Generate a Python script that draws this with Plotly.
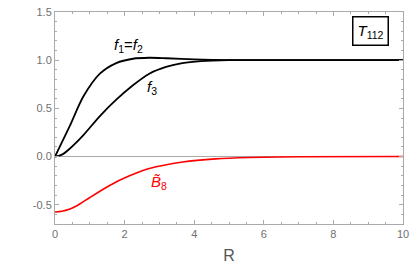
import plotly.graph_objects as go

# data
r_f12 = [0, 0.2, 0.43, 0.81, 1.29, 1.76, 2.24, 2.71, 3.2, 4.0, 5.0, 6.0, 8.0, 10.0]
f12 = [0, 0.15, 0.32, 0.62, 0.86, 0.97, 1.015, 1.025, 1.02, 1.008, 1.001, 1.0, 1.0, 1.0]

r_f3 = [0, 0.2, 0.43, 0.81, 1.29, 1.76, 2.24, 2.71, 3.19, 3.66, 4.2, 5.0, 6.0, 8.0, 10.0]
f3 = [0, 0.02, 0.084, 0.22, 0.42, 0.59, 0.74, 0.86, 0.93, 0.97, 0.99, 1.0, 1.0, 1.0, 1.0]

r_b8 = [0, 0.2, 0.43, 0.7, 1.0, 1.57, 2.14, 2.71, 3.67, 4.62, 5.57, 7.0, 10.0]
b8 = [-0.575, -0.567, -0.545, -0.495, -0.425, -0.30, -0.20, -0.125, -0.057, -0.024, -0.01, -0.002, 0.0]

xticks = [0, 2, 4, 6, 8, 10]
yticks = [-0.5, 0.0, 0.5, 1.0, 1.5]
ytick_text = ["-0.5", "0.0", "0.5", "1.0", "1.5"]

fig = go.Figure()
fig.add_trace(go.Scatter(x=r_f12, y=f12, mode="lines", line=dict(color="black", width=1.8, shape="spline", smoothing=0.8)))
fig.add_trace(go.Scatter(x=r_f3, y=f3, mode="lines", line=dict(color="black", width=1.8, shape="spline", smoothing=0.8)))
fig.add_trace(go.Scatter(x=r_b8, y=b8, mode="lines", line=dict(color="#ff0000", width=1.6, shape="spline", smoothing=0.8)))

tickfont = dict(family="Liberation Sans, Arial", size=11, color="#707070")
fig.update_layout(
    width=415, height=271,
    margin=dict(l=55, r=8, t=6, b=47),
    paper_bgcolor="white", plot_bgcolor="white",
    showlegend=False,
    xaxis=dict(range=[0, 10], tickvals=xticks, showgrid=False, zeroline=False,
               showline=True, linecolor="#aaaaaa", linewidth=1, mirror="allticks",
               ticks="inside", ticklen=4, tickcolor="#aaaaaa",
               minor=dict(dtick=0.5, ticks="inside", ticklen=2, tickcolor="#aaaaaa"),
               tickfont=tickfont,
               title=dict(text="R", font=dict(family="Liberation Sans, Arial", size=16, color="#555555"), standoff=10)),
    yaxis=dict(range=[-0.7, 1.5], tickvals=yticks, ticktext=ytick_text, showgrid=False,
               zeroline=True, zerolinecolor="#aaaaaa", zerolinewidth=1,
               showline=True, linecolor="#aaaaaa", linewidth=1, mirror="allticks",
               ticks="inside", ticklen=4, tickcolor="#aaaaaa",
               minor=dict(dtick=0.1, ticks="inside", ticklen=2, tickcolor="#aaaaaa"),
               tickfont=tickfont),
)

labfont = dict(family="Liberation Sans, Arial", size=15, color="black")
fig.add_annotation(x=2.12, y=1.15, text="<i>f</i><sub>1</sub>=<i>f</i><sub>2</sub>", showarrow=False, font=labfont)
fig.add_annotation(x=2.78, y=0.72, text="<i>f</i><sub>3</sub>", showarrow=False, font=labfont)
fig.add_annotation(x=3.0, y=-0.27, text="<i>B\u0303</i><sub>8</sub>", showarrow=False,
                   font=dict(family="Liberation Sans, Arial", size=15, color="#ff0000"))
fig.add_annotation(x=9.06, y=1.3, text="<i>T</i><sub>112</sub>", showarrow=False,
                   font=dict(family="Liberation Sans, Arial", size=15, color="black"),
                   bordercolor="black", borderwidth=1.5, borderpad=4, bgcolor="white")

fig.write_html("out.html", config={"displayModeBar": False},
               post_script="document.body.style.margin='0';document.body.style.overflow='hidden';")
